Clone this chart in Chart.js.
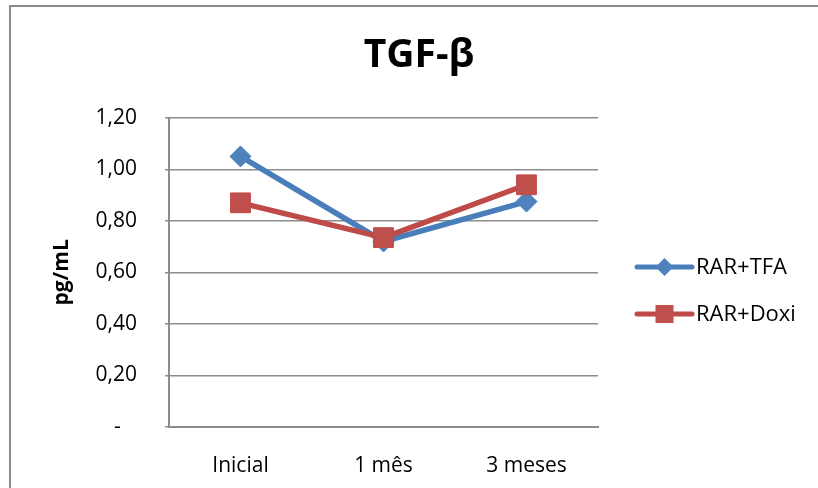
<!DOCTYPE html>
<html>
<head>
<meta charset="utf-8">
<script src="https://cdn.jsdelivr.net/npm/chart.js@4"></script>
<style>
  html, body { margin: 0; padding: 0; background: #fff; }
  #wrap { position: relative; width: 818px; height: 488px; overflow: hidden; }
  #frame { position: absolute; left: 9px; top: 5px; width: 900px; height: 600px;
           border-top: 2px solid #8a8a8a; border-left: 2px solid #8a8a8a; box-sizing: border-box; }
  canvas { position: absolute; left: 0; top: 0; }
</style>
</head>
<body>
<div id="wrap">
  <div id="frame"></div>
  <canvas id="chart" width="818" height="488"></canvas>
</div>
<script>
const categories = ['Inicial', '1 mês', '3 meses'];
const rarTfa = [1.05, 0.72, 0.875];
const rarDoxi = [0.87, 0.735, 0.94];
const yTicks = [0, 0.2, 0.4, 0.6, 0.8, 1.0, 1.2];
const seriesNames = ['RAR+TFA', 'RAR+Doxi'];

const FONT = '"Open Sans", "Noto Sans", sans-serif';
const GRID = '#8c8c8c';

// legend drawn by hand: Excel style line with a marker in the middle
const lineLegend = {
  id: 'lineLegend',
  afterDraw(chart, args, opts) {
    const ctx = chart.ctx;
    chart.data.datasets.forEach((ds, i) => {
      const y = opts.y + i * opts.gap;
      const x0 = opts.x, x1 = opts.x + opts.len, xm = (x0 + x1) / 2;
      ctx.save();
      ctx.strokeStyle = ds.borderColor;
      ctx.lineWidth = 5;
      ctx.lineCap = 'round';
      ctx.beginPath();
      ctx.moveTo(x0, y);
      ctx.lineTo(x1, y);
      ctx.stroke();
      ctx.fillStyle = ds.pointBackgroundColor;
      ctx.beginPath();
      const r = opts.marker;
      if (ds.pointStyle === 'rectRot') {
        ctx.moveTo(xm, y - r);
        ctx.lineTo(xm + r, y);
        ctx.lineTo(xm, y + r);
        ctx.lineTo(xm - r, y);
        ctx.closePath();
      } else {
        ctx.rect(xm - r, y - r, 2 * r, 2 * r);
      }
      ctx.fill();
      ctx.fillStyle = '#000';
      ctx.font = opts.fontSize + 'px ' + FONT;
      ctx.textBaseline = 'middle';
      ctx.textAlign = 'left';
      ctx.fillText(ds.label, x1 + 4, y + 1);
      ctx.restore();
    });
  }
};

new Chart(document.getElementById('chart'), {
  type: 'line',
  data: {
    labels: categories,
    datasets: [
      {
        label: seriesNames[0],
        data: rarTfa,
        borderColor: '#4a7ebb',
        backgroundColor: '#4f81bd',
        pointBackgroundColor: '#4f81bd',
        pointBorderColor: '#4a7ebb',
        pointBorderWidth: 1,
        pointStyle: 'rectRot',
        pointRadius: 10.5,
        borderWidth: 5.5,
        tension: 0,
        order: 1
      },
      {
        label: seriesNames[1],
        data: rarDoxi,
        borderColor: '#be4b48',
        backgroundColor: '#c0504d',
        pointBackgroundColor: '#c0504d',
        pointBorderColor: '#be4b48',
        pointBorderWidth: 1,
        pointStyle: 'rect',
        pointRadius: 14,
        borderWidth: 5.5,
        tension: 0,
        order: 0
      }
    ]
  },
  options: {
    responsive: false,
    animation: false,
    devicePixelRatio: 1,
    layout: { padding: { left: 20, right: 0, top: 0, bottom: 0 } },
    plugins: {
      legend: { display: false },
      tooltip: { enabled: false },
      title: {
        display: true,
        text: 'TGF-β',
        color: '#000',
        font: { family: FONT, size: 39, weight: 'bold' },
        padding: { top: 32, bottom: 39 }
      },
      lineLegend: { x: 637, y: 267, gap: 47, len: 55, marker: 9, fontSize: 22 }
    },
    scales: {
      x: {
        offset: true,
        grid: { display: false, drawTicks: false },
        border: { display: true, color: GRID, width: 2 },
        ticks: { color: '#000', padding: 26, font: { family: FONT, size: 21 } },
        afterFit: s => { s.height = 61; }
      },
      y: {
        min: 0,
        max: 1.2,
        afterBuildTicks: s => { s.ticks = yTicks.map(v => ({ value: v })); },
        grid: { color: GRID, lineWidth: 1.5, drawTicks: true, tickLength: 4 },
        border: { display: true, color: GRID, width: 2 },
        ticks: {
          color: '#000',
          padding: 28,
          font: { family: FONT, size: 21 },
          callback: v => v === 0 ? '-   ' : v.toFixed(2).replace('.', ',')
        },
        title: {
          display: true,
          text: 'pg/mL',
          color: '#000',
          font: { family: FONT, size: 21, weight: 'bold' },
          padding: { top: 29, bottom: 0 }
        },
        afterFit: s => { s.width = 149; }
      },
      side: {
        position: 'right',
        display: true,
        grid: { display: false, drawTicks: false },
        border: { display: false },
        ticks: { display: false },
        afterFit: s => { s.width = 220; }
      }
    }
  },
  plugins: [lineLegend]
});
</script>
</body>
</html>
